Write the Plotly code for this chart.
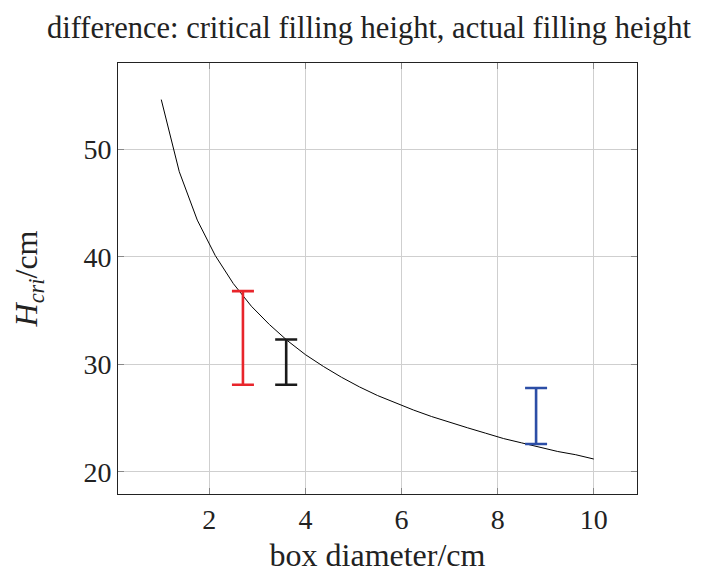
import plotly.graph_objects as go

# curve: critical filling height vs box diameter
diameter = [1.0, 1.375, 1.75, 2.125, 2.5, 2.875, 3.25, 3.625, 4.0, 4.375, 4.75, 5.125,
            5.5, 5.875, 6.25, 6.625, 7.0, 7.375, 7.75, 8.125, 8.5, 8.875, 9.25, 9.625, 10.0]
h_cri = [54.6, 47.9, 43.4, 40.1, 37.5, 35.4, 33.7, 32.2, 30.9, 29.8, 28.8, 27.9,
         27.1, 26.4, 25.75, 25.15, 24.6, 24.1, 23.6, 23.1, 22.7, 22.3, 21.9, 21.6, 21.2]

# ranges: actual filling height (bottom) to critical (top)
bar_x = [2.7, 3.6, 8.8]
bar_low = [28.1, 28.1, 22.6]
bar_high = [36.8, 32.3, 27.8]
bar_colors = ["#e8252b", "#1a1a1a", "#2c4ea6"]

xticks = [2, 4, 6, 8, 10]
yticks = [20, 30, 40, 50]

FONT = "Liberation Serif, Times New Roman, DejaVu Serif, serif"
TXT = "#222"

fig = go.Figure()
fig.add_trace(go.Scatter(x=diameter, y=h_cri, mode="lines",
                         line=dict(color="black", width=1), showlegend=False))
for xv, lo, hi, c in zip(bar_x, bar_low, bar_high, bar_colors):
    fig.add_trace(go.Scatter(
        x=[xv], y=[lo], mode="markers", marker=dict(size=0.1, color=c, opacity=0),
        error_y=dict(type="data", symmetric=False, array=[hi - lo], arrayminus=[0],
                     color=c, thickness=2.6, width=11),
        showlegend=False))

axis_common = dict(showline=True, linecolor="#222", linewidth=1, mirror="ticks",
                   ticks="inside", ticklen=6, tickcolor="#888", tickwidth=1,
                   showgrid=True, gridcolor="#cfcfcf", gridwidth=1, zeroline=False,
                   tickfont=dict(family=FONT, size=28, color=TXT))

L, T, W, H = 110, 55, 519, 431
fig.update_layout(
    width=710, height=575,
    margin=dict(l=L, r=710 - L - W, t=T, b=575 - T - H),
    paper_bgcolor="white", plot_bgcolor="white",
    title=dict(text="difference: critical filling height, actual filling height",
               x=361 / 710, xanchor="center", y=1 - 19 / 575, yanchor="middle",
               font=dict(family=FONT, size=30.5, color=TXT)),
    xaxis=dict(range=[0.1, 10.9], tickvals=xticks,
               title=dict(text="box diameter/cm", font=dict(family=FONT, size=32, color=TXT),
                          standoff=10),
               **axis_common),
    yaxis=dict(range=[17.95, 58.0], tickvals=yticks,
               title=dict(text="<i>H</i><sub><i>cri</i></sub>/cm",
                          font=dict(family=FONT, size=32, color=TXT), standoff=40),
               **axis_common),
)

fig.write_html("out.html")
